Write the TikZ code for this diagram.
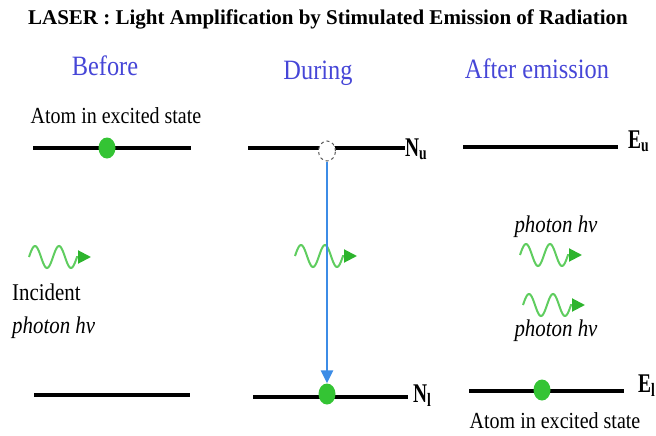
\documentclass[tikz,border=0pt]{standalone}
\usepackage{fontspec}
\setmainfont{Liberation Serif}
\newfontfamily\narrowfont[FakeStretch=0.87]{Liberation Serif}
\newfontfamily\levelfont[FakeStretch=0.72]{Liberation Serif}
\usetikzlibrary{arrows.meta,shapes.geometric}

\definecolor{atomgreen}{RGB}{52,196,52}
\definecolor{wavegreen}{RGB}{95,205,95}
\definecolor{tipgreen}{RGB}{45,180,45}
\definecolor{headblue}{RGB}{70,70,215}
\definecolor{decayblue}{RGB}{60,140,230}

\tikzset{
  photon/.pic={
    \draw[line width=2pt, wavegreen, -{Triangle[length=13pt,width=13pt,color=tipgreen]}]
      plot[domain=0:720, samples=60] ({\x/720*48}, {11*sin(\x)}) -- ++(14,0);
  }
}

\begin{document}
\begin{tikzpicture}[x=1pt, y=1pt,
  level/.style={line width=4.5pt},
  atom/.style={ellipse, fill=atomgreen, minimum width=17pt, minimum height=21pt, inner sep=0pt},
  hole/.style={ellipse, draw=gray!70!black, dashed, line width=1pt, fill=white, minimum width=17pt, minimum height=20pt, inner sep=0pt},
  heading/.style={text=headblue, font=\narrowfont\fontsize{28}{30}\selectfont, anchor=base, inner sep=0pt},
  txt/.style={font=\narrowfont\fontsize{23}{26}\selectfont, inner sep=0pt},
  lvl/.style={font=\levelfont\bfseries\fontsize{27}{28}\selectfont, anchor=base west, inner sep=0pt}]
  \useasboundingbox (0,0) rectangle (656,-436);

  \node[font=\bfseries\fontsize{21}{23}\selectfont, anchor=base, inner sep=0pt] (title) at (328,-25)
    {LASER : Light Amplification by Stimulated Emission of Radiation};

  \node[heading] (before) at (105,-76) {Before};
  \node[heading] (during) at (318,-79) {During};
  \node[heading] (after) at (537,-78) {After emission};

  % before
  \node[txt, anchor=base] (exc1) at (116,-123) {Atom in excited state};
  \draw[level] (33,-148) -- (191,-148);
  \draw[level] (34,-395) -- (190,-395);
  \node[atom] (a1) at (107,-148) {};
  \pic at (29,-257) {photon};
  \node[txt, anchor=base west, font=\narrowfont\fontsize{24}{26}\selectfont] (inc) at (12,-300) {Incident};
  \node[txt, anchor=base west, font=\narrowfont\itshape\fontsize{24}{26}\selectfont] (inc2) at (12,-333) {photon hv};

  % during
  \draw[level] (248,-148) -- (405,-148);
  \draw[level] (253,-397) -- (408,-397);
  \node[lvl] (Nu) at (405,-156) {N\textsubscript{u}};
  \node[lvl] (Nl) at (413,-402) {N\textsubscript{l}};
  \node[hole] (h2) at (327,-151) {};
  \node[atom] (a2) at (327,-394) {};
  \pic at (295,-256) {photon};
  \draw[line width=2.7pt, decayblue, -{Triangle[length=13pt,width=12pt]}] (h2) -- (a2);

  % after emission
  \draw[level] (463,-147) -- (618,-147);
  \draw[level] (469,-391) -- (624,-391);
  \node[lvl] (Eu) at (628,-148) {E\textsubscript{u}};
  \node[lvl] (El) at (638,-392) {E\textsubscript{l}};
  \node[atom] (a3) at (542,-390) {};
  \node[txt, anchor=base, font=\narrowfont\itshape\fontsize{24}{26}\selectfont] (ph1) at (556,-232) {photon hv};
  \pic at (520,-255) {photon};
  \pic at (523,-305) {photon};
  \node[txt, anchor=base, font=\narrowfont\itshape\fontsize{24}{26}\selectfont] (ph2) at (556,-336) {photon hv};
  \node[txt, anchor=base] (exc2) at (555,-428) {Atom in excited state};
\end{tikzpicture}
\end{document}
